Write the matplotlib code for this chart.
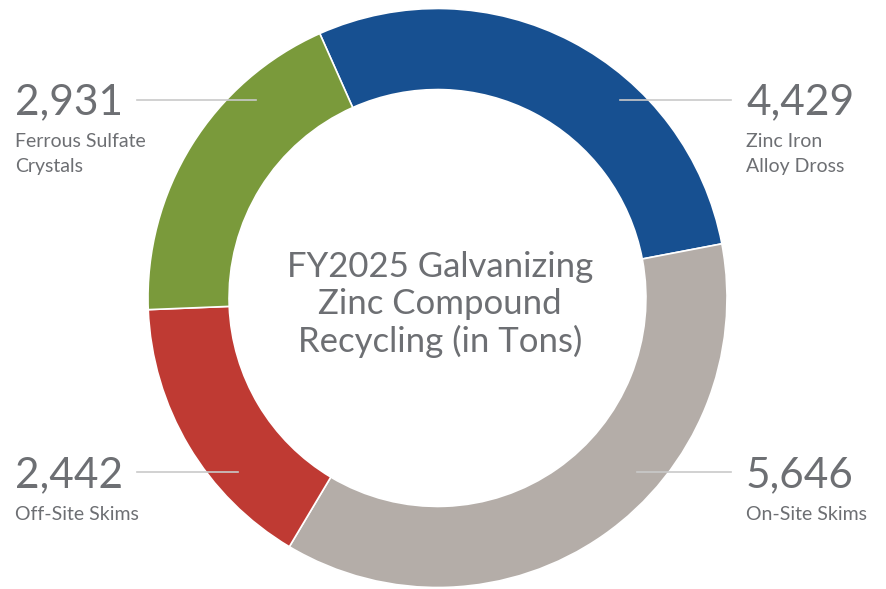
import matplotlib.pyplot as plt

# Data
categories = ["Zinc Iron\nAlloy Dross", "On-Site Skims", "Off-Site Skims", "Ferrous Sulfate\nCrystals"]
values = [4429, 5646, 2442, 2931]
colors = ["#175091", "#b4ada8", "#bf3a33", "#7a9a3b"]
title_lines = ["FY2025 Galvanizing", "Zinc Compound", "Recycling (in Tons)"]

W, H = 887, 589
text_color = "#6d6f73"
plt.rcParams['font.family'] = ['Lato', 'DejaVu Sans']

fig = plt.figure(figsize=(W / 100, H / 100), dpi=100)

# donut: centre (437.5, 298) px, outer radius 289.5 px
cx, cy, r = 437.5, 298, 289.5
ax = fig.add_axes([(cx - r) / W, (H - cy - r) / H, 2 * r / W, 2 * r / H])
ax.pie(values, colors=colors, startangle=114, counterclock=False, radius=1,
       wedgeprops=dict(width=0.28, edgecolor="white", linewidth=1.2))
ax.set_xlim(-1, 1)
ax.set_ylim(-1, 1)
ax.set_aspect("equal")
ax.axis("off")

# overlay in pixel coordinates for labels and leader lines
ov = fig.add_axes([0, 0, 1, 1])
ov.set_xlim(0, W)
ov.set_ylim(H, 0)
ov.axis("off")
ov.patch.set_alpha(0)

# (text x, number baseline, line x0, line x1, line y)
spots = [
    (746, 114, 620, 731, 100),
    (746, 487, 637, 731, 472),
    (15, 487, 137, 238, 472),
    (15, 114, 137, 256, 100),
]

for cat, val, (tx, ty, x0, x1, ly) in zip(categories, values, spots):
    ov.plot([x0, x1], [ly, ly], color="#c9c9c9", linewidth=1.2)
    ov.text(tx, ty, f"{val:,}", fontsize=30.5, color=text_color,
            ha="left", va="baseline")
    for i, line in enumerate(cat.split("\n")):
        ov.text(tx, ty + 33 + i * 25, line, fontsize=14, color=text_color,
                ha="left", va="baseline")

for i, line in enumerate(title_lines):
    ov.text(440, 277 + i * 37.5, line, fontsize=25, color=text_color,
            ha="center", va="baseline")

fig.savefig("out.png", dpi=100)
